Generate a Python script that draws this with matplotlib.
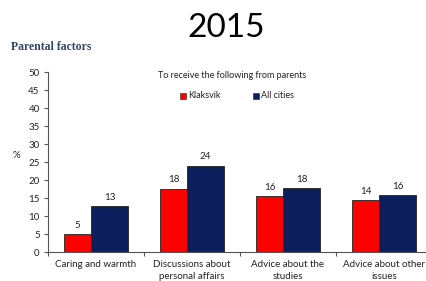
import numpy as np
import matplotlib
matplotlib.use('Agg')
import matplotlib.pyplot as plt
from matplotlib.patches import Rectangle

categories = ['Caring and warmth', 'Discussions about\npersonal affairs',
              'Advice about the\nstudies', 'Advice about other\nissues']
klaksvik = [4.9, 17.6, 15.6, 14.4]
all_cities = [12.7, 24.0, 17.8, 15.8]
klaksvik_labels = ['5', '18', '16', '14']
all_cities_labels = ['13', '24', '18', '16']
yticks = [0, 5, 10, 15, 20, 25, 30, 35, 40, 45, 50]

RED = '#ff0000'
NAVY = '#0c1f5c'
FONT = 'Lato'


def main():
    fig = plt.figure(figsize=(4.27, 2.81), dpi=100)
    fig.patch.set_facecolor('white')

    ax = fig.add_axes([48 / 427, 29 / 281, 384 / 427, 180 / 281])
    x = np.arange(len(categories)) + 0.5
    w_red, w_blue = 0.286, 0.38
    left = x - (w_red + w_blue) / 2

    b1 = ax.bar(left, klaksvik, width=w_red, align='edge', color=RED,
                edgecolor='#222222', linewidth=0.6, label='Klaksvik')
    b2 = ax.bar(left + w_red, all_cities, width=w_blue, align='edge', color=NAVY,
                edgecolor='#222222', linewidth=0.6, label='All cities')

    for bars, labs in ((b1, klaksvik_labels), (b2, all_cities_labels)):
        for r, lab in zip(bars, labs):
            ax.text(r.get_x() + r.get_width() / 2, r.get_height() + 1.2, lab,
                    ha='center', va='bottom', fontsize=7, family=FONT, color='#222222')

    ax.set_xlim(0, 4)
    ax.set_ylim(0, 50)
    ax.set_yticks(yticks)
    ax.set_xticks(range(5))
    ax.set_xticklabels([])
    ax.set_xticks(x, minor=True)
    ax.set_xticklabels(categories, minor=True, fontsize=7, family=FONT,
                       color='#222222', linespacing=1.4)
    ax.tick_params(axis='x', which='minor', length=0, pad=6)
    ax.tick_params(axis='x', which='major', length=3, direction='out', color='#555555')
    ax.tick_params(axis='y', length=3, direction='out', color='#555555',
                   labelsize=7, labelcolor='#222222', pad=3)
    for lbl in ax.get_yticklabels():
        lbl.set_family(FONT)
    for s in ('top', 'right'):
        ax.spines[s].set_visible(False)
    for s in ('left', 'bottom'):
        ax.spines[s].set_color('#555555')
        ax.spines[s].set_linewidth(0.8)

    fig.text(16 / 427, 1 - 155 / 281, '%', fontsize=7, family=FONT,
             ha='center', va='center', color='#222222')

    fig.text(226 / 427, 1 - 28 / 281, '2015', fontsize=24, family=FONT,
             ha='center', va='center', color='black')
    fig.text(11 / 427, 1 - 50 / 281, 'Parental factors', fontsize=8.5,
             family='Liberation Serif', weight='bold', ha='left', va='baseline',
             color='#34466b')
    fig.text(232 / 427, 1 - 76 / 281, 'To receive the following from parents',
             fontsize=6.5, family=FONT, ha='center', va='center', color='#222222')

    # legend
    for xs, col, lab in ((180, RED, 'Klaksvik'), (253, NAVY, 'All cities')):
        fig.patches.append(Rectangle((xs / 427, 1 - 99 / 281), 6 / 427, 6 / 281,
                                     transform=fig.transFigure, facecolor=col,
                                     edgecolor='#222222', linewidth=0.4))
        fig.text((xs + 8) / 427, 1 - 95.5 / 281, lab, fontsize=6.5, family=FONT,
                 ha='left', va='center', color='#222222')

    fig.savefig('out.png', dpi=100)


if __name__ == '__main__':
    main()
